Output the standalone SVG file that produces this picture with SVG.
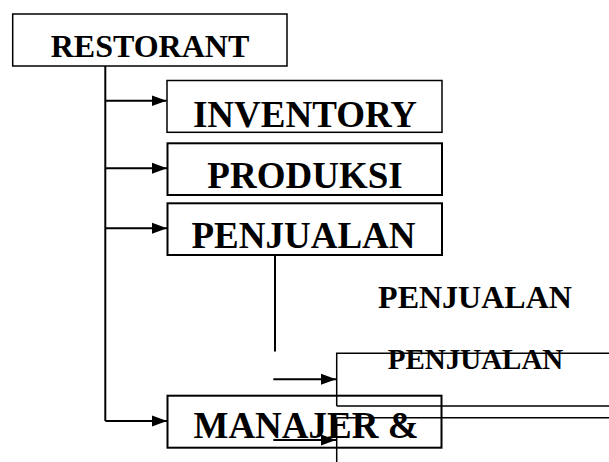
<svg xmlns="http://www.w3.org/2000/svg" width="609" height="462" viewBox="0 0 609 462">
<style>
.box{fill:none;stroke:#000;}
.t{font-family:"Liberation Serif","Times New Roman",serif;font-weight:bold;fill:#000;text-anchor:middle;}
.ln{fill:none;stroke:#000;stroke-width:2;}
.thin{fill:none;stroke:#000;stroke-width:1.5;}
</style>
<defs>
<marker id="ah" markerWidth="16" markerHeight="12" refX="15" refY="6" orient="auto" markerUnits="userSpaceOnUse">
<path d="M0,0.5 L15,6 L0,11.5 Z" fill="#000"/>
</marker>
</defs>
<rect width="609" height="462" fill="#fff"/>
<g id="restorant">
<rect class="box" x="12.7" y="14" width="274.3" height="52" stroke-width="1.5"/>
<text class="t" x="150" y="57" font-size="32">RESTORANT</text>
</g>
<g id="inventory">
<rect class="box" x="167" y="80.5" width="275" height="51.8" stroke-width="1.5"/>
<text class="t" x="305" y="127" font-size="37">INVENTORY</text>
</g>
<g id="produksi">
<rect class="box" x="167.5" y="143.3" width="274.5" height="51.7" stroke-width="2"/>
<text class="t" x="305" y="187.5" font-size="37">PRODUKSI</text>
</g>
<g id="penjualan">
<rect class="box" x="167.5" y="203.3" width="274.5" height="51.7" stroke-width="2"/>
<text class="t" x="303.5" y="248" font-size="37">PENJUALAN</text>
</g>
<g id="penjualan-label">
<text class="t" x="475" y="308.3" font-size="32">PENJUALAN</text>
</g>
<g id="penjualan-2">
<path class="thin" d="M336.7,406 V353.3 H612 M336.7,406 H612 M336.7,417.7 H612 M336.7,417.7 V464"/>
<text class="t" x="475.5" y="369.3" font-size="29">PENJUALAN</text>
</g>
<g id="manajer">
<rect class="box" x="167.5" y="395.7" width="274" height="52" stroke-width="2"/>
<text class="t" x="306" y="438.3" font-size="37">MANAJER &amp;</text>
</g>
<g id="connectors">
<path class="ln" d="M105.3,66 V421"/>
<path class="ln" d="M105.3,100.7 H166.5" marker-end="url(#ah)"/>
<path class="ln" d="M105.3,168.3 H167" marker-end="url(#ah)"/>
<path class="ln" d="M105.3,228.3 H167" marker-end="url(#ah)"/>
<path class="ln" d="M105.3,421 H167" marker-end="url(#ah)"/>
<path class="ln" d="M275,255 V351.5"/>
<path class="ln" d="M273.3,379.3 H336" marker-end="url(#ah)"/>
<path class="ln" d="M273.3,440 H336" marker-end="url(#ah)"/>
</g>
</svg>
